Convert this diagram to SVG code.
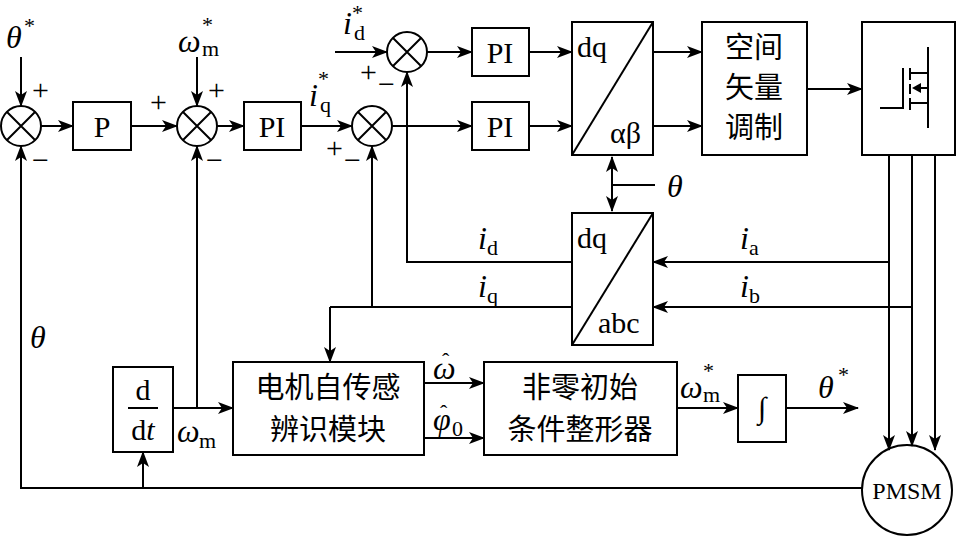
<svg xmlns="http://www.w3.org/2000/svg" width="965" height="539" viewBox="0 0 965 539">
<style>
.b{fill:#fff;stroke:#000;stroke-width:2}
.l{fill:none;stroke:#000;stroke-width:2}
.a{fill:none;stroke:#000;stroke-width:2;marker-end:url(#ar)}
text{font-family:"Liberation Serif",serif;font-size:28px;fill:#000}
.i{font-style:italic;font-size:32px}
.s{font-size:22px}
.p{font-size:30px}
.c{font-family:"Liberation Serif","Noto Sans CJK SC",sans-serif;font-size:29px}
</style>
<defs>
<marker id="ar" markerWidth="16" markerHeight="12" refX="15" refY="6" orient="auto" markerUnits="userSpaceOnUse"><path d="M0,0 L16,6 L0,12 L4,6 Z" fill="#000"/></marker>
<marker id="as" markerWidth="16" markerHeight="12" refX="1" refY="6" orient="auto" markerUnits="userSpaceOnUse"><path d="M16,0 L0,6 L16,12 L12,6 Z" fill="#000"/></marker>
</defs>
<g id="sum1"><circle class="b" cx="21" cy="126" r="20"/><path class="l" d="M7,112 L35,140 M35,112 L7,140"/></g>
<g id="sum2"><circle class="b" cx="197" cy="126" r="20"/><path class="l" d="M183,112 L211,140 M211,112 L183,140"/></g>
<g id="sum3"><circle class="b" cx="372" cy="126" r="20"/><path class="l" d="M358,112 L386,140 M386,112 L358,140"/></g>
<g id="sumd"><circle class="b" cx="407" cy="52" r="20"/><path class="l" d="M393,38 L421,66 M421,38 L393,66"/></g>
<g id="P"><rect class="b" x="73" y="102" width="58" height="48"/><text x="102" y="137" text-anchor="middle" class="p">P</text></g>
<g id="PI1"><rect class="b" x="244" y="102" width="57" height="48"/><text x="272" y="137" text-anchor="middle" class="p">PI</text></g>
<g id="PId"><rect class="b" x="472" y="28" width="57" height="48"/><text x="500" y="63" text-anchor="middle" class="p">PI</text></g>
<g id="PIq"><rect class="b" x="472" y="102" width="57" height="48"/><text x="500" y="137" text-anchor="middle" class="p">PI</text></g>
<g id="park"><rect class="b" x="572" y="22" width="81" height="133"/><path class="l" d="M572,155 L653,22"/><text x="577" y="57" class="p">dq</text><text x="610" y="143" class="p">αβ</text></g>
<g id="svm"><rect class="b" x="702" y="22" width="105" height="133"/><text class="c" x="754" y="58" text-anchor="middle">空间</text><text class="c" x="754" y="98" text-anchor="middle">矢量</text><text class="c" x="754" y="138" text-anchor="middle">调制</text></g>
<g id="inv"><rect class="b" x="862" y="22" width="93" height="133"/><path class="l" d="M880,108 L903,108 L903,68 M910,68 L910,80 M910,84 L910,94 M910,98 L910,110 M910,73 L928,73 M928,47 L928,128 M910,103 L928,103"/><path class="l" d="M928,88 L916,88"/><path d="M912,88 L921,83 L921,93 Z" fill="#000"/></g>
<g id="clarke"><rect class="b" x="572" y="213" width="81" height="132"/><path class="l" d="M572,345 L653,213"/><text x="577" y="248" class="p">dq</text><text x="598" y="333" class="p">abc</text></g>
<g id="ddt"><rect class="b" x="113" y="367" width="60" height="85"/><text x="143" y="400" text-anchor="middle" class="p">d</text><path class="l" d="M128,408 L158,408"/><text x="143" y="440" text-anchor="middle" class="p">d<tspan font-style="italic">t</tspan></text></g>
<g id="ident"><rect class="b" x="233" y="362" width="191" height="93"/><text class="c" x="328" y="398" text-anchor="middle">电机自传感</text><text class="c" x="328" y="440" text-anchor="middle">辨识模块</text></g>
<g id="shaper"><rect class="b" x="484" y="362" width="193" height="93"/><text class="c" x="580" y="398" text-anchor="middle">非零初始</text><text class="c" x="580" y="440" text-anchor="middle">条件整形器</text></g>
<g id="integ"><rect class="b" x="738" y="375" width="48" height="67"/><text x="762" y="418" text-anchor="middle" class="p">∫</text></g>
<g id="pmsm"><circle class="b" cx="907" cy="490" r="45"/><text x="907" y="499" text-anchor="middle" style="font-size:24px">PMSM</text></g>
<g id="connectors">
<path class="a" d="M21,57 L21,106"/>
<path class="a" d="M41,126 L73,126"/>
<path class="a" d="M131,126 L177,126"/>
<path class="a" d="M197,57 L197,106"/>
<path class="a" d="M217,126 L244,126"/>
<path class="a" d="M301,126 L352,126"/>
<path class="a" d="M335,52 L387,52"/>
<path class="a" d="M427,52 L472,52"/>
<path class="a" d="M392,126 L472,126"/>
<path class="a" d="M529,52 L572,52"/>
<path class="a" d="M529,126 L572,126"/>
<path class="a" d="M653,52 L702,52"/>
<path class="a" d="M653,126 L702,126"/>
<path class="a" d="M807,89 L862,89"/>
<path class="l" d="M612,157 L612,211" marker-start="url(#as)" marker-end="url(#ar)"/>
<path class="l" d="M612,185 L655,185"/>
<path class="a" d="M889,155 L889,450"/>
<path class="a" d="M912,155 L912,446"/>
<path class="a" d="M935,155 L935,450"/>
<path class="a" d="M889,262 L653,262"/>
<path class="a" d="M912,307 L653,307"/>
<path class="a" d="M572,262 L407,262 L407,72"/>
<path class="l" d="M572,307 L330,307"/>
<path class="a" d="M372,307 L372,146"/>
<path class="a" d="M330,307 L330,362"/>
<path class="a" d="M862,488 L21,488 L21,146"/>
<path class="a" d="M143,488 L143,452"/>
<path class="a" d="M173,408 L233,408"/>
<path class="a" d="M197,408 L197,146"/>
<path class="a" d="M424,383 L484,383"/>
<path class="a" d="M424,438 L484,438"/>
<path class="a" d="M677,408 L738,408"/>
<path class="a" d="M786,408 L858,408"/>
</g>
<g id="labels">
<text class="i" x="6" y="48">θ</text><text class="s" x="24" y="33">*</text>
<text class="p" x="32" y="100">+</text><text class="p" x="32" y="170">−</text>
<text class="p" x="150" y="112">+</text><text class="p" x="208" y="100">+</text><text class="p" x="206" y="170">−</text>
<text class="i" x="178" y="52">ω</text><text class="s" x="202" y="32">*</text><text class="s" x="202" y="56">m</text>
<text class="i" x="309" y="106">i</text><text class="s" x="318" y="86">*</text><text class="s" x="320" y="112">q</text>
<text class="p" x="326" y="158">+</text><text class="p" x="344" y="170">−</text>
<text class="i" x="343" y="34">i</text><text class="s" x="352" y="20">*</text><text class="s" x="354" y="40">d</text>
<text class="p" x="360" y="82">+</text><text class="p" x="378" y="94">−</text>
<text class="i" x="667" y="197">θ</text>
<text class="i" x="478" y="249">i</text><text class="s" x="487" y="255">d</text>
<text class="i" x="478" y="297">i</text><text class="s" x="487" y="303">q</text>
<text class="i" x="740" y="249">i</text><text class="s" x="749" y="255">a</text>
<text class="i" x="740" y="297">i</text><text class="s" x="749" y="303">b</text>
<text class="i" x="30" y="348">θ</text>
<text class="i" x="177" y="442">ω</text><text class="s" x="199" y="448">m</text>
<text class="i" x="433" y="379">ω</text><text class="s" x="442" y="368">ˆ</text>
<text class="i" x="433" y="430">φ</text><text class="s" x="440" y="420">ˆ</text><text class="s" x="452" y="436">0</text>
<text class="i" x="680" y="398">ω</text><text class="s" x="703" y="378">*</text><text class="s" x="703" y="402">m</text>
<text class="i" x="818" y="398">θ</text><text class="s" x="838" y="382">*</text>
</g>
</svg>
